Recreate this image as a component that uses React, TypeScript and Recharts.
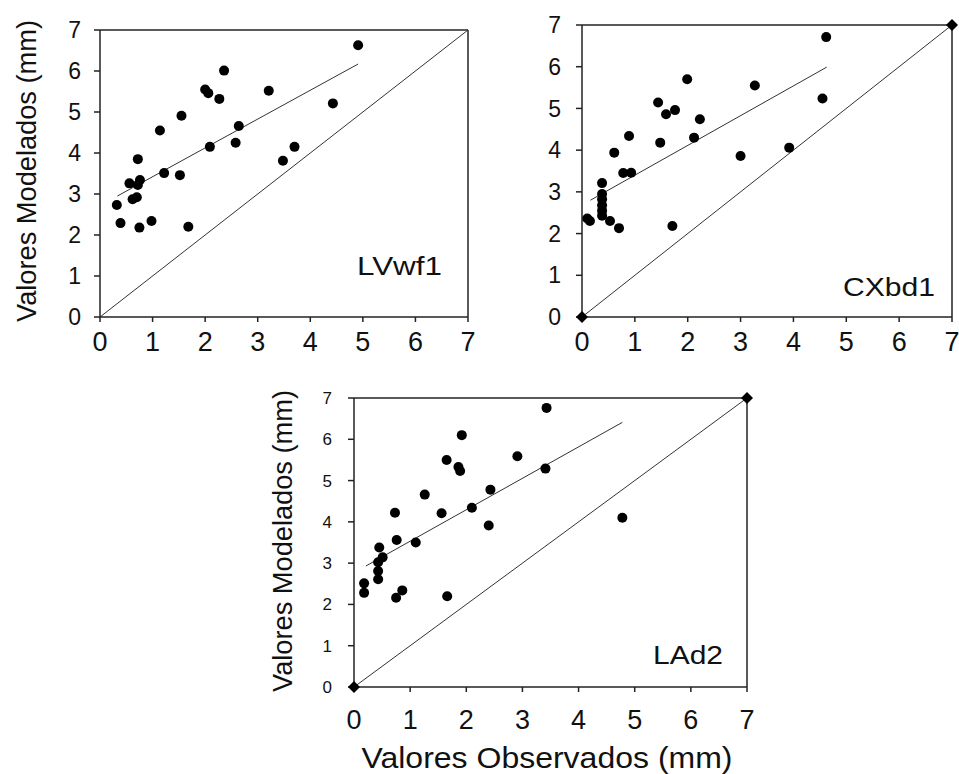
import React from "react";
import { ScatterChart, Scatter, XAxis, YAxis, ReferenceLine } from "recharts";

const FONT = '"Liberation Sans", Arial, sans-serif';
const INK = "#111";

const axisTicks = [0, 1, 2, 3, 4, 5, 6, 7];

// LVwf1
const lvwf1Obs = [4.91, 2.36, 2.0, 2.06, 2.27, 3.21, 4.43, 1.55, 1.14, 2.64, 2.58, 2.09, 3.7, 3.48, 0.72, 1.22, 1.52, 0.76, 0.56, 0.72, 0.7, 0.62, 0.32, 0.39, 0.75, 0.98, 1.68];
const lvwf1Mod = [6.63, 6.01, 5.55, 5.46, 5.32, 5.52, 5.21, 4.91, 4.55, 4.66, 4.25, 4.15, 4.15, 3.81, 3.85, 3.51, 3.46, 3.34, 3.26, 3.22, 2.92, 2.87, 2.73, 2.29, 2.18, 2.34, 2.2];
const lvwf1FitX = [0.33, 4.91];
const lvwf1FitY = [2.95, 6.17];

// CXbd1
const cxbd1Obs = [4.62, 1.99, 3.27, 4.55, 1.44, 1.59, 1.76, 2.23, 0.89, 2.12, 1.48, 0.61, 3.0, 3.92, 0.78, 0.93, 0.38, 0.38, 0.38, 0.38, 0.38, 0.38, 0.1, 0.15, 0.53, 0.7, 1.71];
const cxbd1Mod = [6.71, 5.7, 5.55, 5.24, 5.14, 4.86, 4.96, 4.74, 4.34, 4.3, 4.18, 3.94, 3.86, 4.06, 3.45, 3.46, 3.21, 2.95, 2.82, 2.68, 2.55, 2.43, 2.36, 2.3, 2.3, 2.13, 2.18];
const cxbd1FitX = [0.16, 4.63];
const cxbd1FitY = [2.8, 5.99];

// LAd2
const lad2Obs = [3.43, 1.92, 2.91, 1.65, 1.86, 1.89, 3.41, 1.26, 2.43, 2.1, 0.73, 1.56, 2.4, 0.76, 1.1, 0.45, 0.51, 0.43, 0.43, 0.43, 0.18, 0.18, 0.86, 0.75, 1.66, 4.78];
const lad2Mod = [6.76, 6.1, 5.59, 5.5, 5.33, 5.23, 5.29, 4.66, 4.78, 4.34, 4.22, 4.21, 3.91, 3.56, 3.5, 3.38, 3.14, 3.02, 2.81, 2.61, 2.51, 2.28, 2.34, 2.16, 2.2, 4.1];
const lad2FitX = [0.21, 4.78];
const lad2FitY = [2.93, 6.41];

const endX = [0, 7];
const endY = [0, 7];

const zip = (xs: number[], ys: number[]) => xs.map((x, i) => ({ x, y: ys[i] }));

const Dot = (p: any) => <circle cx={p.cx} cy={p.cy} r={5} fill="#000" />;
const Diamond = (p: any) => (
  <polygon
    points={`${p.cx},${p.cy - 6} ${p.cx + 6},${p.cy} ${p.cx},${p.cy + 6} ${p.cx - 6},${p.cy}`}
    fill="#000"
  />
);
const NoShape = () => <g />;

const Title = (p: any) => (
  <text
    x={p.tx}
    y={p.ty}
    transform={p.rotate ? `rotate(-90 ${p.tx} ${p.ty})` : undefined}
    textAnchor="middle"
    fontFamily={FONT}
    fontSize={p.size}
    fill={INK}
    textLength={p.len}
    lengthAdjust="spacingAndGlyphs"
  >
    {p.text}
  </text>
);

type PanelProps = {
  left: number;
  top: number;
  width: number;
  height: number;
  margin: { top: number; right: number; bottom: number; left: number };
  obs: number[];
  mod: number[];
  fitX: number[];
  fitY: number[];
  corners?: boolean;
  name: string;
  nameX: number;
  nameY: number;
  nameLen: number;
  yTickFont: number;
  yTickMargin: number;
  xTickMargin: number;
  xAxisHeight: number;
  yLabel?: { x: number; y: number };
  xLabel?: { x: number; y: number };
};

function Panel(props: PanelProps) {
  const frame = { stroke: "#222", strokeWidth: 1.5 };
  return (
    <div style={{ position: "absolute", left: props.left, top: props.top }}>
      <ScatterChart width={props.width} height={props.height} margin={props.margin}>
        <XAxis
          type="number"
          dataKey="x"
          domain={[0, 7]}
          ticks={axisTicks}
          interval={0}
          height={props.xAxisHeight}
          axisLine={frame}
          tickLine={frame}
          tickSize={5}
          tickMargin={props.xTickMargin}
          tick={{ fontSize: 27, fill: INK, fontFamily: FONT }}
          label={
            props.xLabel ? (
              <Title tx={props.xLabel.x} ty={props.xLabel.y} size={30} len={371} text="Valores Observados (mm)" />
            ) : undefined
          }
        />
        <YAxis
          type="number"
          dataKey="y"
          domain={[0, 7]}
          ticks={axisTicks}
          interval={0}
          width={60}
          axisLine={frame}
          tickLine={frame}
          tickSize={6}
          tickMargin={props.yTickMargin}
          tick={{ fontSize: props.yTickFont, fill: INK, fontFamily: FONT }}
          label={
            props.yLabel ? (
              <Title tx={props.yLabel.x} ty={props.yLabel.y} size={27} len={302} rotate text="Valores Modelados (mm)" />
            ) : undefined
          }
        />
        <ReferenceLine y={7} stroke="#222" strokeWidth={1.5} />
        <ReferenceLine x={7} stroke="#222" strokeWidth={1.5} />
        <ReferenceLine
          segment={[
            { x: 0, y: 0 },
            { x: 7, y: 7 },
          ]}
          stroke="#333"
          strokeWidth={1}
        />
        <Scatter
          data={zip(props.fitX, props.fitY)}
          line={{ stroke: "#333", strokeWidth: 1 }}
          shape={NoShape}
          isAnimationActive={false}
        />
        <Scatter data={zip(props.obs, props.mod)} shape={Dot} isAnimationActive={false} />
        {props.corners && <Scatter data={zip(endX, endY)} shape={Diamond} isAnimationActive={false} />}
        <text
          x={props.nameX}
          y={props.nameY}
          fontFamily={FONT}
          fontSize={26}
          fill={INK}
          textLength={props.nameLen}
          lengthAdjust="spacingAndGlyphs"
        >
          {props.name}
        </text>
      </ScatterChart>
    </div>
  );
}

export default function App() {
  return (
    <div style={{ position: "absolute", left: 0, top: 0, width: 959, height: 774, background: "#fff" }}>
      <Panel
        left={0}
        top={0}
        width={480}
        height={370}
        margin={{ top: 30, right: 12, bottom: 8, left: 40 }}
        obs={lvwf1Obs}
        mod={lvwf1Mod}
        fitX={lvwf1FitX}
        fitY={lvwf1FitY}
        name="LVwf1"
        nameX={357}
        nameY={275}
        nameLen={85}
        yTickFont={23}
        yTickMargin={13}
        xTickMargin={10}
        xAxisHeight={45}
        yLabel={{ x: 36, y: 171 }}
      />
      <Panel
        left={480}
        top={0}
        width={479}
        height={370}
        margin={{ top: 25, right: 7, bottom: 8, left: 42 }}
        obs={cxbd1Obs}
        mod={cxbd1Mod}
        fitX={cxbd1FitX}
        fitY={cxbd1FitY}
        corners
        name="CXbd1"
        nameX={363}
        nameY={296}
        nameLen={92}
        yTickFont={23}
        yTickMargin={15}
        xTickMargin={10}
        xAxisHeight={45}
      />
      <Panel
        left={240}
        top={380}
        width={520}
        height={394}
        margin={{ top: 18, right: 13, bottom: 0, left: 54 }}
        obs={lad2Obs}
        mod={lad2Mod}
        fitX={lad2FitX}
        fitY={lad2FitY}
        corners
        name="LAd2"
        nameX={413}
        nameY={284}
        nameLen={70}
        yTickFont={17}
        yTickMargin={16}
        xTickMargin={18}
        xAxisHeight={87}
        yLabel={{ x: 52, y: 161 }}
        xLabel={{ x: 307, y: 388 }}
      />
    </div>
  );
}
